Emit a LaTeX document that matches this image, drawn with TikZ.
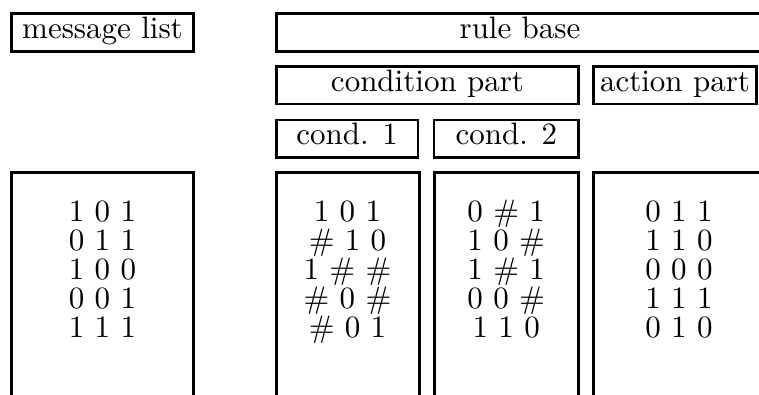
\documentclass[tikz,border=0pt]{standalone}
\usepackage{fontspec}
\setmainfont{lmroman10-regular.otf}
\begin{document}
\begin{tikzpicture}[x=1pt,y=-1pt,line width=2.7pt,
  lbl/.style={draw,rectangle,inner sep=4pt,text height=20.8pt,text depth=8.7pt,
    font=\fontsize{31}{29}\selectfont},
  cell/.style={anchor=base,inner sep=0pt,font=\fontsize{31}{29}\selectfont},
  colbox/.style={draw,line join=miter}]
\useasboundingbox (0,0) rectangle (759,394);
\clip (0,0) rectangle (759,394);

% header boxes
\node[lbl,minimum width=182pt]   (msg)  at (102.5,32.5)  {message list};
\node[lbl,minimum width=487.4pt] (rule) at (520,32.5)    {rule base};
\node[lbl,minimum width=302.4pt] (cond) at (427.5,85.25) {condition part};
\node[lbl,minimum width=163pt]   (act)  at (675,85.25)   {action part};
\node[lbl,minimum width=141.7pt] (c1)   at (347.15,138.85) {cond. 1};
\node[lbl,minimum width=144.7pt] (c2)   at (506.35,138.85) {cond. 2};

% open-bottom columns
\draw[colbox] (11.5,400) -- (11.5,172.7) -- (193.5,172.7) -- (193.5,400);
\draw[colbox] (276.3,400) -- (276.3,172.7) -- (419.5,172.7) -- (419.5,400);
\draw[colbox] (434.7,400) -- (434.7,172.7) -- (578.5,172.7) -- (578.5,400);
\draw[colbox] (593.5,400) -- (593.5,172.7) -- (770,172.7) -- (770,400);

% message list column
\node[cell] (m1) at (102.5,221.7) {1 0 1};
\node[cell] (m2) at (102.5,250.7) {0 1 1};
\node[cell] (m3) at (102.5,279.7) {1 0 0};
\node[cell] (m4) at (102.5,308.7) {0 0 1};
\node[cell] (m5) at (102.5,337.7) {1 1 1};

% condition 1 column
\node[cell] (a1) at (347.5,221.7) {1 0 1};
\node[cell] (a2) at (347.5,250.7) {\# 1 0};
\node[cell] (a3) at (347.5,279.7) {1 \# \#};
\node[cell] (a4) at (347.5,308.7) {\# 0 \#};
\node[cell] (a5) at (347.5,337.7) {\# 0 1};

% condition 2 column
\node[cell] (b1) at (506.2,221.7) {0 \# 1};
\node[cell] (b2) at (506.2,250.7) {1 0 \#};
\node[cell] (b3) at (506.2,279.7) {1 \# 1};
\node[cell] (b4) at (506.2,308.7) {0 0 \#};
\node[cell] (b5) at (506.2,337.7) {1 1 0};

% action column
\node[cell] (d1) at (679,221.7) {0 1 1};
\node[cell] (d2) at (679,250.7) {1 1 0};
\node[cell] (d3) at (679,279.7) {0 0 0};
\node[cell] (d4) at (679,308.7) {1 1 1};
\node[cell] (d5) at (679,337.7) {0 1 0};
\end{tikzpicture}
\end{document}
